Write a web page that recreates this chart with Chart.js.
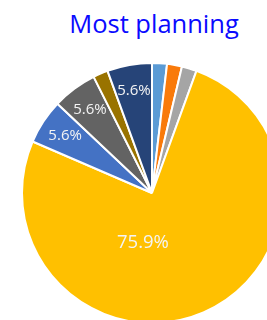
<!DOCTYPE html>
<html>
<head>
<meta charset="utf-8">
<script src="https://cdn.jsdelivr.net/npm/chart.js@4/dist/chart.umd.min.js"></script>
<style>
    html, body { margin: 0; padding: 0; background: #fff; }
    body { width: 267px; height: 320px; overflow: hidden; position: relative; }
    #title {
        position: absolute; left: 0; width: 308px; top: 6px;
        text-align: center; color: #0a0aff;
        font-family: "Open Sans", sans-serif; font-size: 25.5px;
    }
    #wrap { position: absolute; left: 21px; top: 62px; width: 262px; height: 262px; }
</style>
</head>
<body>
<div id="title">Most planning</div>
<div id="wrap"><canvas id="pieChart"></canvas></div>
<script>
// Data (counts out of 54 responses)
const categories = ['A', 'B', 'C', 'D', 'E', 'F', 'G', 'H'];
const counts = [1, 1, 1, 41, 3, 3, 1, 3];
const sliceColors = ['#5b9bd5', '#f97a0a', '#a5a5a5', '#ffc000', '#4472c4', '#636363', '#997300', '#264478'];

// draws the percentage labels inside the slices, like the Excel original
const pieLabels = {
    id: 'pieLabels',
    afterDatasetsDraw(chart) {
        const ctx = chart.ctx;
        const meta = chart.getDatasetMeta(0);
        const total = counts.reduce((a, b) => a + b, 0);
        ctx.save();
        ctx.textAlign = 'center';
        ctx.textBaseline = 'middle';
        ctx.fillStyle = '#f4f4f4';
        meta.data.forEach(function(arc, i) {
            const pct = counts[i] / total * 100;
            if (pct < 3) return;
            const p = arc.getProps(['x', 'y', 'startAngle', 'endAngle', 'outerRadius']);
            let mid = (p.startAngle + p.endAngle) / 2;
            let dist = p.outerRadius * 0.8;
            let size = 15;
            if (pct > 50) {
                // big slice: Excel drops it just below the centre
                mid = Math.PI / 2 + 0.18;
                dist = p.outerRadius * 0.39;
                size = 18.5;
            }
            ctx.font = size + 'px "Open Sans", sans-serif';
            ctx.fillText(pct.toFixed(1) + '%', p.x + Math.cos(mid) * dist, p.y + Math.sin(mid) * dist);
        });
        ctx.restore();
    }
};

const ctx = document.getElementById('pieChart');
new Chart(ctx, {
    type: 'pie',
    data: {
        labels: categories,
        datasets: [{
            data: counts,
            backgroundColor: sliceColors,
            borderColor: '#ffffff',
            borderWidth: 2
        }]
    },
    options: {
        responsive: true,
        maintainAspectRatio: false,
        animation: false,
        layout: { padding: 0 },
        plugins: {
            legend: { display: false },
            tooltip: { enabled: false }
        }
    },
    plugins: [pieLabels]
});
</script>
</body>
</html>
